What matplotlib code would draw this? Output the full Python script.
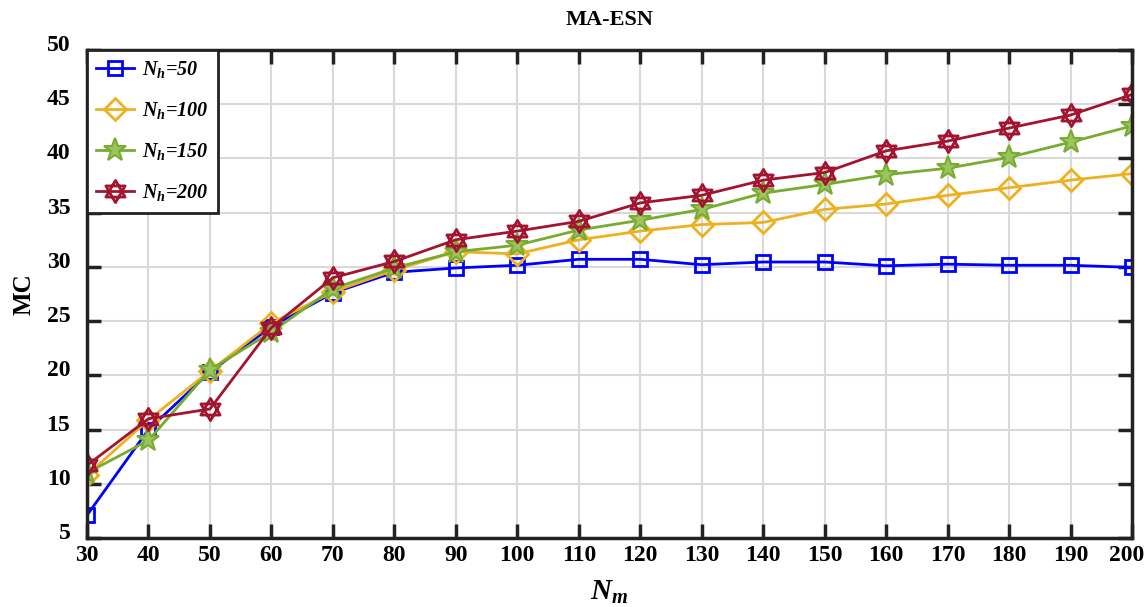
import matplotlib
matplotlib.use('Agg')
import matplotlib.pyplot as plt
import numpy as np
from matplotlib.path import Path
from matplotlib.transforms import ScaledTranslation

plt.rcParams['font.family'] = 'Liberation Serif'
plt.rcParams['font.weight'] = 'bold'
plt.rcParams['mathtext.fontset'] = 'custom'
plt.rcParams['mathtext.it'] = 'Liberation Serif:italic:bold'
plt.rcParams['mathtext.rm'] = 'Liberation Serif:bold'

# data
nm = [30, 40, 50, 60, 70, 80, 90, 100, 110, 120, 130, 140, 150, 160, 170, 180, 190, 200]
mc_50 = [7.1, 15.0, 20.3, 24.5, 27.6, 29.5, 29.9, 30.15, 30.7, 30.7, 30.2, 30.45,
         30.45, 30.1, 30.25, 30.15, 30.15, 29.95]
mc_100 = [10.8, 15.9, 20.4, 24.8, 27.7, 29.7, 31.4, 31.2, 32.5, 33.3, 33.9, 34.1,
          35.3, 35.8, 36.6, 37.3, 38.0, 38.6]
mc_150 = [11.0, 14.0, 20.5, 24.0, 28.0, 29.9, 31.4, 32.0, 33.4, 34.3, 35.3, 36.8,
          37.6, 38.5, 39.1, 40.1, 41.5, 43.0]
mc_200 = [11.7, 16.0, 16.9, 24.4, 29.0, 30.5, 32.5, 33.3, 34.2, 35.9, 36.6, 38.0,
          38.7, 40.7, 41.6, 42.8, 44.0, 45.9]
labels = ['$N_h$=50', '$N_h$=100', '$N_h$=150', '$N_h$=200']

# six-pointed star (two triangles)
a_up = np.deg2rad([90, 210, 330])
a_dn = np.deg2rad([270, 30, 150])
verts = []
codes = []
for a in (a_up, a_dn):
    pts = list(zip(np.cos(a), np.sin(a)))
    verts += pts + [pts[0]]
    codes += [Path.MOVETO, Path.LINETO, Path.LINETO, Path.CLOSEPOLY]
hexagram = Path(verts, codes)

fig = plt.figure(figsize=(11.46, 6.07), dpi=100)
ax = fig.add_axes([87/1146, 1-538/607, 1045/1146, 488/607])

ax.plot(nm, mc_50, color='#0000FF', lw=2, marker='s', ms=10, mfc='none', mew=2, label=labels[0])
ax.plot(nm, mc_100, color='#EDB120', lw=2, marker='D', ms=11, mfc='none', mew=2, label=labels[1])
ax.plot(nm, mc_150, color='#77AC30', lw=2, marker='*', ms=17, mfc='#9cc45e', mew=1.5, label=labels[2])
ax.plot(nm, mc_200, color='#A2142F', lw=2, marker=hexagram, ms=16, mfc='none', mew=2, label=labels[3])

ax.set_xlim(30, 200)
ax.set_ylim(5, 50)
ax.set_xticks(np.arange(30, 201, 10))
ax.set_yticks(np.arange(5, 51, 5))
ax.grid(True, color='#d9d9d9', lw=1.5)
ax.set_axisbelow(True)
ax.tick_params(direction='in', length=10, width=2.5, top=True, right=True,
               labelsize=17, colors='#222222', labelcolor='black')
ax.tick_params(axis='y', pad=12)
ax.tick_params(axis='x', pad=5)
for s in ax.spines.values():
    s.set_linewidth(2.5)
    s.set_color('#222222')

for lab in ax.get_yticklabels():
    lab.set_transform(lab.get_transform() + ScaledTranslation(0, 7/100, fig.dpi_scale_trans))
last = ax.get_xticklabels()[-1]
last.set_transform(last.get_transform() + ScaledTranslation(-5/100, 0, fig.dpi_scale_trans))

ax.set_title('MA-ESN', fontsize=16, fontweight='bold', pad=18)
ax.set_ylabel('MC', fontsize=18, fontweight='bold', labelpad=8)
ax.set_xlabel('$N_m$', fontsize=21, labelpad=9)

leg = ax.legend(loc='upper left', borderaxespad=0, fancybox=False, edgecolor='#222222',
                labelspacing=1.0, handlelength=1.9, handletextpad=0.4,
                borderpad=0.45, prop={'style': 'italic', 'weight': 'bold', 'size': 14.5})
leg.get_frame().set_linewidth(2)
leg.get_frame().set_alpha(1)

fig.savefig('out.png', dpi=100)
